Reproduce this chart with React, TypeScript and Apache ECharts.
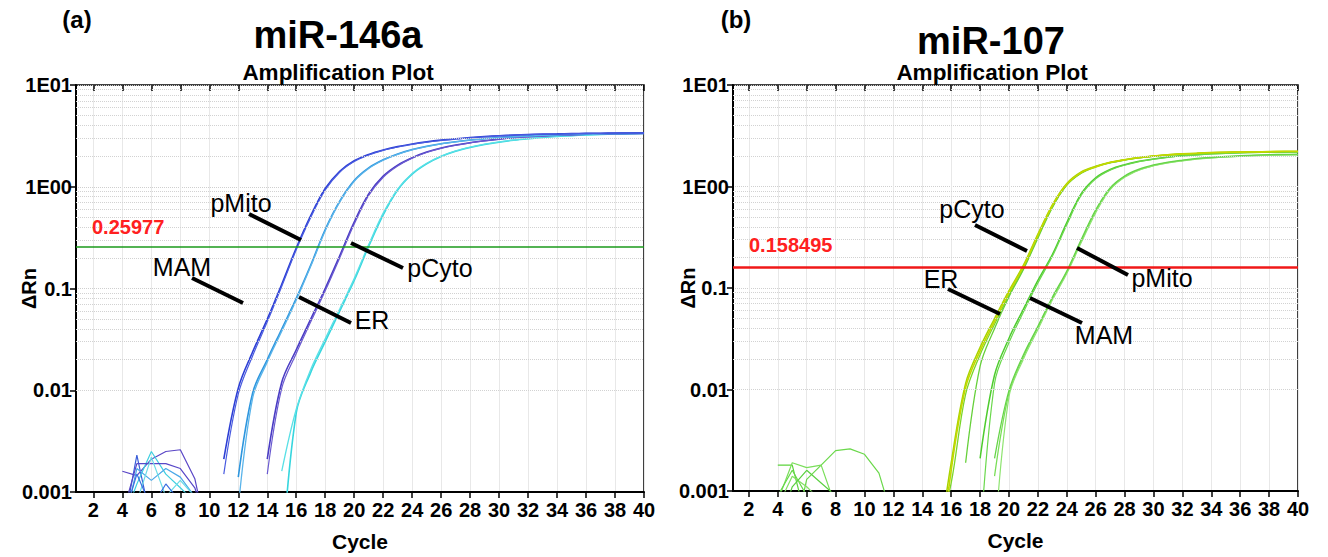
import React, { useEffect, useRef } from "react";
import * as echarts from "echarts";

// ---------- axis ticks ----------
const xTickValues = [2, 4, 6, 8, 10, 12, 14, 16, 18, 20, 22, 24, 26, 28, 30, 32, 34, 36, 38, 40];
const yTickLabels = ["0.001", "0.01", "0.1", "1E00", "1E01"];
const minorGridValues = [
  0.002, 0.003, 0.004, 0.005, 0.006, 0.007, 0.008, 0.009,
  0.02, 0.03, 0.04, 0.05, 0.06, 0.07, 0.08, 0.09,
  0.2, 0.3, 0.4, 0.5, 0.6, 0.7, 0.8, 0.9,
  2, 3, 4, 5, 6, 7, 8, 9,
];

// ---------- panel (a) miR-146a ----------
const thresholdA = 0.25977;
const aPMito1 = [0.0021, 0.0105, 0.024, 0.05, 0.11, 0.25, 0.52, 0.96, 1.42, 1.8, 2.08, 2.3, 2.48, 2.63, 2.76, 2.87, 2.96, 3.04, 3.11, 3.17, 3.22, 3.26, 3.29, 3.31, 3.33, 3.35, 3.36, 3.37, 3.38, 3.38]; // from cycle 11
const aPMito2 = [0.0015, 0.0092, 0.022, 0.047, 0.105, 0.24, 0.5, 0.93, 1.39, 1.77, 2.05, 2.28, 2.46, 2.61, 2.74, 2.85, 2.95, 3.03, 3.1, 3.16, 3.21, 3.25, 3.28, 3.3, 3.32, 3.34, 3.35, 3.36, 3.37, 3.37]; // from 11
const aER1 = [0.0014, 0.0095, 0.02, 0.04, 0.08, 0.17, 0.38, 0.72, 1.15, 1.53, 1.84, 2.1, 2.32, 2.5, 2.65, 2.77, 2.88, 2.97, 3.05, 3.11, 3.16, 3.21, 3.25, 3.28, 3.3, 3.32, 3.34, 3.35, 3.36]; // from 12
const aER2 = [0.0007, 0.0085, 0.019, 0.038, 0.077, 0.165, 0.37, 0.71, 1.13, 1.51, 1.82, 2.08, 2.3, 2.48, 2.64, 2.76, 2.87, 2.96, 3.04, 3.1, 3.15, 3.2, 3.24, 3.27, 3.29, 3.31, 3.33, 3.34, 3.35]; // from 12
const aPCyto1 = [0.0021, 0.012, 0.025, 0.05, 0.1, 0.21, 0.45, 0.85, 1.27, 1.63, 1.93, 2.19, 2.4, 2.57, 2.71, 2.83, 2.94, 3.03, 3.1, 3.16, 3.21, 3.25, 3.28, 3.3, 3.32, 3.34, 3.35]; // from 14
const aPCyto2 = [0.0015, 0.0105, 0.023, 0.047, 0.095, 0.2, 0.43, 0.82, 1.24, 1.6, 1.91, 2.17, 2.38, 2.55, 2.7, 2.82, 2.93, 3.02, 3.09, 3.15, 3.2, 3.24, 3.27, 3.29, 3.31, 3.33, 3.34]; // from 14
const aMAM1 = [0.0002, 0.006, 0.015, 0.03, 0.06, 0.12, 0.26, 0.53, 0.93, 1.33, 1.68, 1.98, 2.23, 2.43, 2.6, 2.74, 2.86, 2.96, 3.05, 3.12, 3.18, 3.23, 3.27, 3.3, 3.32, 3.34]; // from 15
const aMAM2 = [0.0016, 0.0065, 0.016, 0.032, 0.063, 0.125, 0.27, 0.55, 0.95, 1.35, 1.7, 2.0, 2.25, 2.45, 2.62, 2.76, 2.88, 2.98, 3.07, 3.14, 3.19, 3.24, 3.28, 3.31, 3.33, 3.35]; // from 15
// baseline noise, from cycle 4
const aNoise1 = [0.0016, 0.00145, 0.0021, 0.0025, 0.0026, 0.00135, 0.0003];
const aNoise2 = [0.0004, 0.0023, 0.0005];
const aNoise3 = [0.0005, 0.0012, 0.0025, 0.0015, 0.0011, 0.0008];
const aNoise4 = [0.0006, 0.0019, 0.0019, 0.0019, 0.0017, 0.0011, 0.0004];
const aNoise5 = [0.0004, 0.0017, 0.0013, 0.0017, 0.0014, 0.0009];
const aNoise6 = [0.0005, 0.0008, 0.0022, 0.0009, 0.0013, 0.0009];
const aNoise7 = [0.0005, 0.0015, 0.0007, 0.0012, 0.0008];

// ---------- panel (b) miR-107 ----------
const thresholdB = 0.158495;
const bPCyto1 = [0.0001, 0.0016, 0.0105, 0.024, 0.047, 0.09, 0.162, 0.33, 0.645, 1.05, 1.37, 1.56, 1.72, 1.83, 1.92, 2.0, 2.05, 2.09, 2.12, 2.15, 2.17, 2.18, 2.19, 2.2, 2.21, 2.21]; // from 15
const bPCyto2 = [0.0002, 0.0019, 0.0115, 0.026, 0.05, 0.094, 0.168, 0.34, 0.66, 1.07, 1.39, 1.58, 1.73, 1.84, 1.93, 2.0, 2.06, 2.1, 2.13, 2.16, 2.18, 2.19, 2.2, 2.21, 2.22, 2.22]; // from 15
const bER1 = [0.0019, 0.017, 0.04, 0.082, 0.152, 0.31, 0.62, 1.03, 1.35, 1.56, 1.71, 1.82, 1.91, 1.98, 2.04, 2.08, 2.11, 2.14, 2.16, 2.17, 2.18, 2.19, 2.2, 2.2]; // from 17
const bER2 = [0.0003, 0.0012, 0.009, 0.022, 0.044, 0.085, 0.156, 0.32, 0.63, 1.04, 1.36, 1.57, 1.72, 1.83, 1.92, 1.99, 2.05, 2.09, 2.12, 2.15, 2.17, 2.18, 2.19, 2.2, 2.21, 2.21]; // from 15
const bMAM1 = [0.0021, 0.0139, 0.032, 0.062, 0.119, 0.214, 0.44, 0.85, 1.22, 1.47, 1.64, 1.77, 1.87, 1.95, 2.01, 2.06, 2.1, 2.13, 2.15, 2.17, 2.18, 2.19, 2.2]; // from 18
const bMAM2 = [0.0003, 0.0115, 0.029, 0.058, 0.112, 0.205, 0.42, 0.82, 1.19, 1.45, 1.62, 1.76, 1.86, 1.94, 2.0, 2.05, 2.09, 2.12, 2.14, 2.16, 2.17, 2.18, 2.19]; // from 18
const bPMito1 = [0.0014, 0.0092, 0.021, 0.041, 0.079, 0.143, 0.29, 0.57, 0.95, 1.25, 1.46, 1.61, 1.72, 1.8, 1.87, 1.92, 1.96, 1.99, 2.02, 2.04, 2.05, 2.06]; // from 19
const bPMito2 = [0.0003, 0.0085, 0.02, 0.039, 0.076, 0.139, 0.28, 0.55, 0.93, 1.23, 1.45, 1.6, 1.71, 1.79, 1.86, 1.91, 1.95, 1.98, 2.01, 2.03, 2.04, 2.05]; // from 19
const bPMito3 = [0.0021, 0.0098, 0.022, 0.042, 0.081, 0.147, 0.3, 0.59, 0.97, 1.27, 1.48, 1.63, 1.74, 1.82, 1.89, 1.94, 1.98, 2.01, 2.04, 2.06, 2.07, 2.08]; // from 19
// baseline noise, from cycle 4
const bNoise1 = [0.0002, 0.0003, 0.0013, 0.0018, 0.0025, 0.0026, 0.0023, 0.0015, 0.0005];
const bNoise2 = [0.0018, 0.0018, 0.0005];
const bNoise3 = [0.0008, 0.0019, 0.0017, 0.0018, 0.0007];
const bNoise4 = [0.0009, 0.0016, 0.0009];
const bNoise5 = [0.0007, 0.0014, 0.0011, 0.0008];
const bNoise6 = [0.0004, 0.0011, 0.0016, 0.0012, 0.0009];

const FONT = "'Liberation Sans', Arial, Helvetica, sans-serif";

type Curve = { start: number; values: number[]; color: string; width: number; smooth: boolean };

const leftCurves: Curve[] = [
  { start: 4, values: aNoise1, color: "#5a46c6", width: 1.2, smooth: false },
  { start: 4, values: aNoise2, color: "#3a5ed8", width: 1.2, smooth: false },
  { start: 4, values: aNoise3, color: "#3fcfe0", width: 1.2, smooth: false },
  { start: 4, values: aNoise4, color: "#5848c8", width: 1.2, smooth: false },
  { start: 4, values: aNoise5, color: "#4aa8e8", width: 1.2, smooth: false },
  { start: 4, values: aNoise6, color: "#6adce6", width: 1.2, smooth: false },
  { start: 4, values: aNoise7, color: "#3c6ee0", width: 1.2, smooth: false },
  { start: 15, values: aMAM1, color: "#36d6de", width: 1.6, smooth: true },
  { start: 15, values: aMAM2, color: "#5ae0e6", width: 1.3, smooth: true },
  { start: 14, values: aPCyto1, color: "#4a3cc4", width: 1.6, smooth: true },
  { start: 14, values: aPCyto2, color: "#6a5ad0", width: 1.2, smooth: true },
  { start: 12, values: aER1, color: "#2e96de", width: 1.6, smooth: true },
  { start: 12, values: aER2, color: "#5ab4ea", width: 1.3, smooth: true },
  { start: 11, values: aPMito1, color: "#2c3ed4", width: 1.6, smooth: true },
  { start: 11, values: aPMito2, color: "#4a5ce0", width: 1.2, smooth: true },
];

const rightCurves: Curve[] = [
  { start: 4, values: bNoise1, color: "#6ad84a", width: 1.2, smooth: false },
  { start: 4, values: bNoise2, color: "#5cd43c", width: 1.2, smooth: false },
  { start: 4, values: bNoise3, color: "#7ade5a", width: 1.2, smooth: false },
  { start: 4, values: bNoise4, color: "#66d84a", width: 1.2, smooth: false },
  { start: 4, values: bNoise5, color: "#84e064", width: 1.2, smooth: false },
  { start: 4, values: bNoise6, color: "#5ad040", width: 1.2, smooth: false },
  { start: 19, values: bPMito1, color: "#7ade58", width: 1.3, smooth: true },
  { start: 19, values: bPMito2, color: "#8ee470", width: 1.2, smooth: true },
  { start: 19, values: bPMito3, color: "#66d448", width: 1.3, smooth: true },
  { start: 18, values: bMAM1, color: "#4ecc2e", width: 1.5, smooth: true },
  { start: 18, values: bMAM2, color: "#6ad84c", width: 1.2, smooth: true },
  { start: 15, values: bER2, color: "#7ad62a", width: 1.3, smooth: true },
  { start: 17, values: bER1, color: "#66d03a", width: 1.3, smooth: true },
  { start: 15, values: bPCyto2, color: "#a8d400", width: 1.5, smooth: true },
  { start: 15, values: bPCyto1, color: "#c4d800", width: 1.6, smooth: true },
];

const grids = [
  { left: 76, top: 85, width: 568, height: 408 },
  { left: 733, top: 85, width: 565, height: 406 },
];
const xMins = [0.8, 0.9];

function buildOption() {
  const xAxis: any[] = [];
  const yAxis: any[] = [];
  const series: any[] = [];
  grids.forEach((g, gi) => {
    xAxis.push({
      type: "value", gridIndex: gi, min: xMins[gi], max: 40,
      axisLine: { show: true, onZero: false, lineStyle: { color: "#000", width: 2 } },
      axisTick: { show: true, customValues: xTickValues, length: 6, lineStyle: { color: "#000", width: 1.5 } },
      axisLabel: { customValues: xTickValues, color: "#000", fontSize: 20, fontWeight: "bold", fontFamily: FONT, margin: 8 },
      splitLine: { show: true, lineStyle: { color: "#e8e8e8", width: 1 } },
      name: "Cycle", nameLocation: "middle", nameGap: 39,
      nameTextStyle: { color: "#000", fontSize: 21, fontWeight: "bold", fontFamily: FONT },
    });
    xAxis.push({
      type: "value", gridIndex: gi, min: xMins[gi], max: 40,
      axisLine: { show: false },
      axisTick: { show: true, inside: true, customValues: xTickValues, length: 6, lineStyle: { color: "#000", width: 1.5 } },
      axisLabel: { show: false },
      splitLine: { show: false },
    });
    yAxis.push({
      type: "log", logBase: 10, gridIndex: gi, min: 0.001, max: 10,
      axisLine: { show: true, onZero: false, lineStyle: { color: "#000", width: 2 } },
      axisTick: { show: true, length: 6, lineStyle: { color: "#000", width: 1.5 } },
      axisLabel: {
        color: "#000", fontSize: 20, fontWeight: "bold", fontFamily: FONT, margin: 4,
        formatter: (v: number) => yTickLabels[Math.round(Math.log10(v)) + 3] ?? "",
      },
      splitLine: { show: true, lineStyle: { color: "#cfcfcf", type: "dotted", width: 1 } },
      name: "ΔRn", nameLocation: "middle", nameGap: gi === 0 ? 37 : 35, nameRotate: 90,
      nameMoveOverlap: false,
      nameTextStyle: { color: "#000", fontSize: 20, fontWeight: "bold", fontFamily: FONT },
    });
    const xi = gi * 2;
    series.push({
      type: "line", xAxisIndex: xi, yAxisIndex: gi, data: [], silent: true, z: 1,
      markLine: {
        silent: true, symbol: ["none", "none"], animation: false, label: { show: false },
        lineStyle: { color: "#d2d2d2", type: "dotted", width: 1 },
        data: minorGridValues.map((v) => ({ yAxis: v })),
      },
    });
    const curves = gi === 0 ? leftCurves : rightCurves;
    curves.forEach((c) => {
      series.push({
        type: "line", xAxisIndex: xi, yAxisIndex: gi, showSymbol: false, symbol: "none",
        smooth: c.smooth ? 0.35 : false, clip: true, z: 3,
        lineStyle: { color: c.color, width: c.width },
        data: c.values.map((v, i) => [c.start + i, v]),
      });
    });
    series.push({
      type: "line", xAxisIndex: xi, yAxisIndex: gi, data: [], silent: true, z: 4,
      markLine: {
        silent: true, symbol: ["none", "none"], animation: false, label: { show: false },
        lineStyle: gi === 0 ? { color: "#1a9a1a", type: "solid", width: 1.6 } : { color: "#f01818", type: "solid", width: 2.6 },
        data: [{ yAxis: gi === 0 ? thresholdA : thresholdB }],
      },
    });
  });

  const txt = (x: number, y: number, text: string, size: number, weight: string, color = "#000", align = "center") => ({
    type: "text", x, y, z: 10,
    style: { text, fill: color, fontSize: size, fontWeight: weight, fontFamily: FONT, textAlign: align, textVerticalAlign: "middle" },
  });
  const ln = (x1: number, y1: number, x2: number, y2: number) => ({
    type: "line", z: 10, shape: { x1, y1, x2, y2 }, style: { stroke: "#000", lineWidth: 4 },
  });

  const graphic = [
    txt(77, 19, "(a)", 24, "bold"),
    txt(338, 35, "miR-146a", 38, "bold"),
    txt(338, 72, "Amplification Plot", 22.5, "bold"),
    txt(736, 19, "(b)", 24, "bold"),
    txt(991, 41, "miR-107", 38, "bold"),
    txt(992, 72, "Amplification Plot", 22.5, "bold"),
    txt(92, 227, String(thresholdA), 20, "bold", "#ff2020", "left"),
    txt(749, 245, String(thresholdB), 20, "bold", "#ff2020", "left"),
    // panel (a) labels
    txt(241, 203, "pMito", 25, "normal"), ln(249, 214, 301, 240),
    txt(440, 268, "pCyto", 25, "normal"), ln(351, 243, 403, 268),
    txt(372, 320, "ER", 25, "normal"), ln(299, 297, 351, 323),
    txt(182, 267, "MAM", 25, "normal"), ln(192, 278, 243, 303),
    // panel (b) labels
    txt(972, 209, "pCyto", 25, "normal"), ln(975, 225, 1027, 251),
    txt(1162, 278, "pMito", 25, "normal"), ln(1077, 248, 1128, 275),
    txt(941, 279, "ER", 25, "normal"), ln(948, 289, 1000, 314),
    txt(1104, 335, "MAM", 25, "normal"), ln(1030, 298, 1082, 323),
  ];

  return {
    animation: false,
    backgroundColor: "#fff",
    grid: grids.map((g) => ({ ...g, show: true, borderColor: "#000", borderWidth: 1.5, containLabel: false })),
    xAxis, yAxis, series, graphic,
  };
}

export default function App() {
  const ref = useRef<HTMLDivElement>(null);
  useEffect(() => {
    if (!ref.current) return;
    const chart = echarts.init(ref.current, null, { renderer: "svg" });
    chart.setOption(buildOption() as any);
    return () => chart.dispose();
  }, []);
  return <div ref={ref} style={{ position: "absolute", left: 0, top: 0, width: 1328, height: 557, background: "#fff" }} />;
}
